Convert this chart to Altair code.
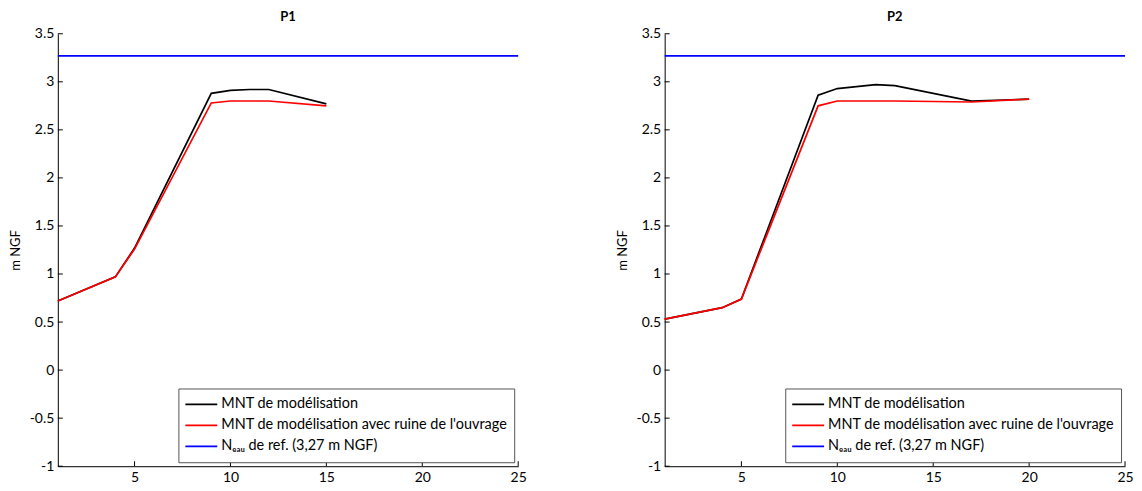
import altair as alt
import pandas as pd

SERIES = [
    "MNT de modélisation",
    "MNT de modélisation avec ruine de l'ouvrage",
    "Nₑₐᵤ de ref. (3,27 m NGF)",
]
COLORS = ["#000000", "#ff0000", "#0000ff"]

P1_X = [1, 4, 5, 9, 10, 11, 12, 15]
P1_BLACK = [0.72, 0.97, 1.27, 2.88, 2.91, 2.92, 2.92, 2.77]
P1_RED = [0.72, 0.97, 1.26, 2.78, 2.80, 2.80, 2.80, 2.75]

P2_X = [1, 4, 5, 9, 10, 12, 13, 17, 20]
P2_BLACK = [0.53, 0.65, 0.74, 2.86, 2.93, 2.97, 2.96, 2.80, 2.82]
P2_RED = [0.53, 0.65, 0.74, 2.75, 2.80, 2.80, 2.80, 2.79, 2.82]

WATER_X = [1, 25]
WATER_LEVEL = 3.27

X_TICKS = [5, 10, 15, 20, 25]
Y_TICKS = [-1, -0.5, 0, 0.5, 1, 1.5, 2, 2.5, 3, 3.5]

W, H = 462, 434
FONT = "Lato"


def panel(title, xs, black, red):
    rows = []
    for s, ys in ((SERIES[0], black), (SERIES[1], red)):
        rows += [{"series": s, "x": a, "y": b} for a, b in zip(xs, ys)]
    rows += [{"series": SERIES[2], "x": a, "y": WATER_LEVEL} for a in WATER_X]
    df = pd.DataFrame(rows)

    xscale = alt.Scale(domain=[1, 25], nice=False, zero=False)
    yscale = alt.Scale(domain=[-1, 3.5], nice=False, zero=False)
    xaxis = alt.Axis(values=X_TICKS, title=None, grid=False, ticks=False,
                     labelPadding=4, domainColor="black", labelColor="black",
                     labelFontSize=14, labelFont=FONT, labelFlush=False)
    yaxis = alt.Axis(values=Y_TICKS, title="m NGF", grid=False, ticks=False,
                     labelPadding=4, titlePadding=7, domainColor="black",
                     labelColor="black", labelFontSize=14, labelFont=FONT,
                     titleFont=FONT, titleFontSize=13, titleFontWeight="normal",
                     titleColor="black", labelExpr="datum.value + ''")

    lines = alt.Chart(df).mark_line(strokeWidth=1.7).encode(
        x=alt.X("x:Q", scale=xscale, axis=xaxis),
        y=alt.Y("y:Q", scale=yscale, axis=yaxis),
        color=alt.Color("series:N", scale=alt.Scale(domain=SERIES, range=COLORS),
                        legend=alt.Legend(title=None, orient="bottom-right", offset=4,
                                          padding=6, strokeColor="#555555", fillColor="white",
                                          symbolType="stroke", symbolSize=1024,
                                          symbolStrokeWidth=1.7, labelFontSize=14.5,
                                          labelFont=FONT, labelColor="black",
                                          clipHeight=20, rowPadding=1, labelOffset=3,
                                          labelLimit=400)),
    )

    xt = alt.Chart(pd.DataFrame({"x": X_TICKS})).mark_rule(color="black", strokeWidth=1).encode(
        x=alt.X("x:Q", scale=xscale, axis=xaxis),
        y=alt.value(H),
        y2=alt.value(H - 5),
    )
    yt = alt.Chart(pd.DataFrame({"y": Y_TICKS})).mark_rule(color="black", strokeWidth=1).encode(
        y=alt.Y("y:Q", scale=yscale, axis=yaxis),
        x=alt.value(0),
        x2=alt.value(5),
    )

    return alt.layer(lines, xt, yt).properties(
        width=W, height=H,
        title=alt.TitleParams(title, font=FONT, fontSize=13, fontWeight="bold",
                              offset=3, anchor="middle", color="black", frame="group"),
    )


chart = alt.hconcat(
    panel("P1", P1_X, P1_BLACK, P1_RED),
    panel("P2", P2_X, P2_BLACK, P2_RED),
    spacing=89,
).resolve_scale(color="independent").configure_view(stroke=None).properties(
    padding={"left": 1, "top": 2, "right": 0, "bottom": 0}
)

chart.save("out.html", embed_options={"renderer": "svg", "actions": False})
